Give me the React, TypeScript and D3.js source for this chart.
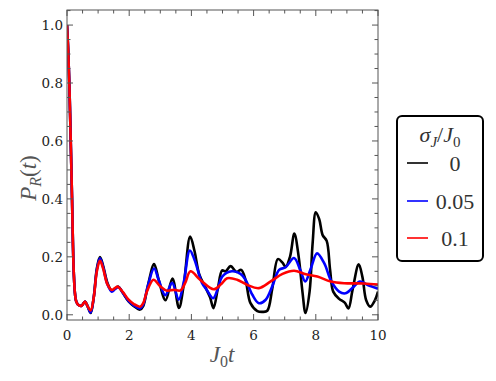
import React from "react";
import * as d3 from "d3";

// [J0 t, P_R(t)]
const earlyDrop: [number, number][] = [
  [0, 1], [0.04, 0.91], [0.08, 0.78], [0.12, 0.6], [0.16, 0.41], [0.19, 0.25],
  [0.22, 0.14], [0.26, 0.07], [0.3, 0.045], [0.37, 0.034], [0.47, 0.031],
  [0.58, 0.046], [0.66, 0.03],
];

const sigma0: [number, number][] = [
  ...earlyDrop,
  [0.76, 0.006], [0.86, 0.06], [0.96, 0.16], [1.06, 0.199], [1.16, 0.17], [1.3, 0.11],
  [1.44, 0.083], [1.54, 0.09], [1.65, 0.097], [1.8, 0.075], [1.98, 0.046], [2.15, 0.03],
  [2.35, 0.018], [2.45, 0.03], [2.6, 0.1], [2.8, 0.175], [2.95, 0.12], [3.17, 0.05],
  [3.39, 0.125], [3.6, 0.024], [3.75, 0.1], [3.96, 0.27], [4.1, 0.22], [4.25, 0.14],
  [4.45, 0.095], [4.6, 0.06], [4.71, 0.023], [4.85, 0.09], [4.99, 0.153], [5.1, 0.15],
  [5.26, 0.168], [5.45, 0.148], [5.6, 0.155], [5.74, 0.121], [5.9, 0.04], [6.12, 0.013],
  [6.3, 0.01], [6.44, 0.014], [6.6, 0.09], [6.78, 0.192], [6.93, 0.18], [7.03, 0.165],
  [7.17, 0.2], [7.31, 0.28], [7.45, 0.2], [7.57, 0.08], [7.67, 0.006], [7.8, 0.08],
  [7.9, 0.25], [8.0, 0.354], [8.11, 0.33], [8.22, 0.275], [8.35, 0.255], [8.46, 0.155],
  [8.56, 0.08], [8.75, 0.055], [8.93, 0.042], [9.05, 0.022], [9.18, 0.085], [9.38, 0.174],
  [9.5, 0.13], [9.62, 0.05], [9.75, 0.028], [9.9, 0.05], [10, 0.08],
];

const sigma005: [number, number][] = [
  ...earlyDrop,
  [0.76, 0.008], [0.86, 0.06], [0.96, 0.155], [1.06, 0.195], [1.16, 0.165], [1.3, 0.105],
  [1.44, 0.08], [1.54, 0.088], [1.65, 0.096], [1.8, 0.075], [1.98, 0.048], [2.15, 0.032],
  [2.35, 0.022], [2.45, 0.035], [2.6, 0.1], [2.8, 0.16], [2.95, 0.12], [3.16, 0.068],
  [3.38, 0.11], [3.59, 0.052], [3.75, 0.11], [3.95, 0.222], [4.1, 0.19], [4.34, 0.11],
  [4.5, 0.085], [4.7, 0.057], [4.85, 0.09], [4.99, 0.132], [5.3, 0.15], [5.58, 0.141],
  [5.74, 0.121], [5.96, 0.069], [6.17, 0.04], [6.39, 0.052], [6.6, 0.098], [6.82, 0.155],
  [7.03, 0.164], [7.3, 0.196], [7.5, 0.155], [7.66, 0.115], [7.84, 0.16], [8.04, 0.212],
  [8.27, 0.178], [8.5, 0.115], [8.75, 0.08], [8.95, 0.074], [9.2, 0.095], [9.42, 0.115],
  [9.67, 0.103], [10, 0.09],
];

const sigma01: [number, number][] = [
  ...earlyDrop,
  [0.76, 0.015], [0.86, 0.06], [0.96, 0.15], [1.06, 0.187], [1.16, 0.16], [1.3, 0.105],
  [1.44, 0.086], [1.54, 0.092], [1.63, 0.097], [1.8, 0.078], [1.98, 0.052], [2.15, 0.037],
  [2.35, 0.028], [2.45, 0.04], [2.57, 0.08], [2.78, 0.121], [3.0, 0.098], [3.22, 0.083],
  [3.43, 0.086], [3.65, 0.084], [3.8, 0.11], [3.97, 0.15], [4.29, 0.12], [4.72, 0.088],
  [4.95, 0.105], [5.15, 0.126], [5.47, 0.121], [5.8, 0.103], [6.17, 0.092], [6.55, 0.115],
  [6.93, 0.141], [7.3, 0.152], [7.68, 0.14], [8.05, 0.132], [8.48, 0.115], [8.91, 0.109],
  [9.55, 0.108], [10, 0.104],
];

const seriesLabels = ["0", "0.05", "0.1"];
const seriesColors = ["#000000", "#0000ff", "#ff0000"];
const seriesData = [sigma0, sigma005, sigma01];

const xMajor = [0, 2, 4, 6, 8, 10];
const yMajor = [0, 0.2, 0.4, 0.6, 0.8, 1.0];

const W = 496;
const H = 381;
const frame = { left: 67, top: 10, right: 378, bottom: 320 };
const serif = "Liberation Serif, DejaVu Serif, serif";
const tickFont = "DejaVu Serif, serif";

export default function App() {
  const x = d3.scaleLinear().domain([0, 10]).range([frame.left, frame.right]);
  const y = d3.scaleLinear().domain([-0.018, 1.052]).range([frame.bottom, frame.top]);

  const line = d3
    .line<[number, number]>()
    .x((d) => x(d[0]))
    .y((d) => y(d[1]))
    .curve(d3.curveCatmullRom.alpha(0.5));

  const xMinor = d3.range(0, 10.001, 0.5).filter((v) => !xMajor.includes(v));
  const yMinor = d3.range(0, 1.051, 0.05).filter((v) => !yMajor.some((m) => Math.abs(m - v) < 1e-6));

  const majorLen = 6;
  const minorLen = 3.5;
  const tickColor = "#555";

  return (
    <svg width={W} height={H} style={{ position: "absolute", left: 0, top: 0, background: "#fff" }}>
      <defs>
        <clipPath id="plotClip">
          <rect x={frame.left} y={frame.top} width={frame.right - frame.left} height={frame.bottom - frame.top} />
        </clipPath>
      </defs>

      {/* curves */}
      <g clipPath="url(#plotClip)">
        {seriesData.map((s, i) => (
          <path key={i} d={line(s) || ""} fill="none" stroke={seriesColors[i]} strokeWidth={2.6} strokeLinejoin="round" />
        ))}
      </g>

      {/* frame */}
      <rect
        x={frame.left}
        y={frame.top}
        width={frame.right - frame.left}
        height={frame.bottom - frame.top}
        fill="none"
        stroke={tickColor}
        strokeWidth={1}
      />

      {/* ticks on all four sides */}
      <g stroke={tickColor} strokeWidth={1}>
        {xMajor.map((v) => (
          <g key={"xm" + v}>
            <line x1={x(v)} x2={x(v)} y1={frame.bottom} y2={frame.bottom - majorLen} />
            <line x1={x(v)} x2={x(v)} y1={frame.top} y2={frame.top + majorLen} />
          </g>
        ))}
        {xMinor.map((v) => (
          <g key={"xn" + v}>
            <line x1={x(v)} x2={x(v)} y1={frame.bottom} y2={frame.bottom - minorLen} />
            <line x1={x(v)} x2={x(v)} y1={frame.top} y2={frame.top + minorLen} />
          </g>
        ))}
        {yMajor.map((v) => (
          <g key={"ym" + v}>
            <line x1={frame.left} x2={frame.left + majorLen} y1={y(v)} y2={y(v)} />
            <line x1={frame.right} x2={frame.right - majorLen} y1={y(v)} y2={y(v)} />
          </g>
        ))}
        {yMinor.map((v) => (
          <g key={"yn" + v}>
            <line x1={frame.left} x2={frame.left + minorLen} y1={y(v)} y2={y(v)} />
            <line x1={frame.right} x2={frame.right - minorLen} y1={y(v)} y2={y(v)} />
          </g>
        ))}
      </g>

      {/* tick labels */}
      <g fontFamily={tickFont} fontSize={13.5} fill="#222">
        {xMajor.map((v) => (
          <text key={"xl" + v} x={x(v)} y={frame.bottom + 20} textAnchor="middle">
            {String(v)}
          </text>
        ))}
        {yMajor.map((v) => (
          <text key={"yl" + v} x={frame.left - 4} y={y(v) + 5} textAnchor="end">
            {v.toFixed(1)}
          </text>
        ))}
      </g>

      {/* axis labels */}
      <text x={222} y={362} fontFamily={serif} fontSize={23} fontStyle="italic" fill="#555" textAnchor="middle">
        J<tspan fontSize={16} fontStyle="normal" dy={5}>0</tspan>
        <tspan dy={-5}>t</tspan>
      </text>
      <text
        transform="translate(36,178) rotate(-90)"
        fontFamily={serif}
        fontSize={23}
        fontStyle="italic"
        fill="#555"
        textAnchor="middle"
      >
        P<tspan fontSize={16} dy={5}>R</tspan>
        <tspan dy={-5} fontStyle="normal">(</tspan>t<tspan fontStyle="normal">)</tspan>
      </text>

      {/* legend */}
      <g>
        <rect x={397} y={116} width={86} height={145} rx={5} ry={5} fill="#fff" stroke="#000" strokeWidth={2} />
        <text x={440} y={142} fontFamily={serif} fontSize={22} fontStyle="italic" fill="#333" textAnchor="middle">
          σ<tspan fontSize={15} dy={5}>J</tspan>
          <tspan dy={-5} fontStyle="normal">/</tspan>J<tspan fontSize={15} fontStyle="normal" dy={5}>0</tspan>
        </text>
        {seriesLabels.map((lab, i) => {
          const ly = [163, 201, 238][i];
          return (
            <g key={lab}>
              <line x1={407} x2={428} y1={ly} y2={ly} stroke={seriesColors[i]} strokeWidth={1.6} />
              <text x={455} y={ly + 8} fontFamily={serif} fontSize={22} fill="#333" textAnchor="middle">
                {lab}
              </text>
            </g>
          );
        })}
      </g>
    </svg>
  );
}
